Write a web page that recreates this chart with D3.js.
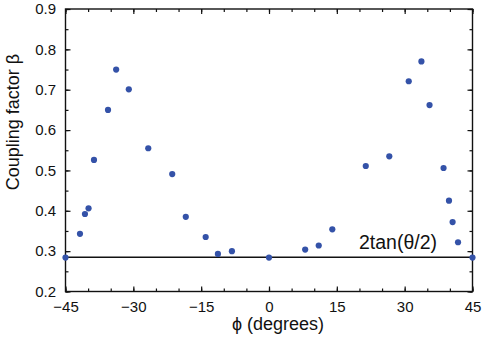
<!DOCTYPE html>
<html>
<head>
<meta charset="utf-8">
<script src="https://cdn.jsdelivr.net/npm/d3@7"></script>
<style>
  body { margin: 0; background: #fff; }
  svg { display: block; font-family: "Liberation Sans", Arial, sans-serif; }
  .axis text { font-size: 15px; fill: #111; }
  .axis line { stroke: #111; stroke-width: 1.2; }
  .axis path { display: none; }
</style>
</head>
<body>
<svg class="chart" width="484" height="342"></svg>
<script>
// angle phi (degrees) and coupling factor beta
var phi = [-45, -41.8, -40.7, -39.9, -38.7, -35.6, -33.8, -31, -26.7, -21.4, -18.4, -14, -11.3, -8.2,
  0, 8, 11, 14, 21.4, 26.6, 30.9, 33.7, 35.5, 38.6, 39.8, 40.6, 41.8, 45];
var beta = [0.284, 0.343, 0.392, 0.406, 0.526, 0.650, 0.750, 0.701, 0.555, 0.491, 0.385, 0.335, 0.293, 0.300,
  0.284, 0.304, 0.314, 0.354, 0.511, 0.535, 0.721, 0.770, 0.662, 0.506, 0.425, 0.372, 0.322, 0.284];
var refValue = 0.285; // 2tan(theta/2)
var refLabel = "2tan(θ/2)";

var xTicks = [-45, -30, -15, 0, 15, 30, 45];
var xMinorTicks = d3.range(-45, 46, 5);
var yTicks = [0.2, 0.3, 0.4, 0.5, 0.6, 0.7, 0.8, 0.9];
var yMinorTicks = d3.range(0.2, 0.901, 0.05);

// plot box (window.top is taken, so prefixed names)
var plotL = 65.5, plotR = 472.5, plotT = 9, plotB = 291.5;

var x = d3.scaleLinear().domain([-45, 45]).range([plotL, plotR]);
var y = d3.scaleLinear().domain([0.2, 0.9]).range([plotB, plotT]);

var svg = d3.select('.chart');

function addAxis(axis, tx, ty) {
  svg.append("g")
    .attr("class", "axis")
    .attr("transform", "translate(" + tx + "," + ty + ")")
    .call(axis);
}

// minor ticks first (no labels), then major ones
addAxis(d3.axisBottom(x).tickValues(xMinorTicks).tickSize(-3).tickFormat(""), 0, plotB);
addAxis(d3.axisTop(x).tickValues(xMinorTicks).tickSize(-3).tickFormat(""), 0, plotT);
addAxis(d3.axisLeft(y).tickValues(yMinorTicks).tickSize(-3).tickFormat(""), plotL, 0);
addAxis(d3.axisRight(y).tickValues(yMinorTicks).tickSize(-3).tickFormat(""), plotR, 0);

addAxis(d3.axisBottom(x).tickValues(xTicks).tickSize(-5).tickPadding(10).tickFormat(d3.format("d")), 0, plotB);
addAxis(d3.axisTop(x).tickValues(xTicks).tickSize(-5).tickFormat(""), 0, plotT);
addAxis(d3.axisLeft(y).tickValues(yTicks).tickSize(-5).tickPadding(9.5).tickFormat(d3.format(".1f")), plotL, 0);
addAxis(d3.axisRight(y).tickValues(yTicks).tickSize(-5).tickFormat(""), plotR, 0);

// frame
svg.append("rect")
  .attr("x", plotL).attr("y", plotT)
  .attr("width", plotR - plotL).attr("height", plotB - plotT)
  .attr("fill", "none").attr("stroke", "#111").attr("stroke-width", 1.4);

// reference line
svg.append("line")
  .attr("x1", x(-45)).attr("x2", x(45))
  .attr("y1", y(refValue)).attr("y2", y(refValue))
  .attr("stroke", "#111").attr("stroke-width", 1.4);

svg.append("text")
  .attr("x", 359).attr("y", y(refValue) - 8.5)
  .attr("font-size", "19.5px").attr("fill", "#111")
  .text(refLabel);

// points
var points = phi.map(function(p, i) { return { phi: p, beta: beta[i] }; });
svg.selectAll("circle.pt")
  .data(points).enter().append("circle")
  .attr("class", "pt")
  .attr("cx", function(d) { return x(d.phi); })
  .attr("cy", function(d) { return y(d.beta); })
  .attr("r", 3.1)
  .attr("fill", "#3452a8");

// axis titles
svg.append("text")
  .attr("x", 232).attr("y", 330)
  .attr("font-size", "18px").attr("fill", "#111")
  .text("\u03D5 (degrees)");

svg.append("text")
  .attr("transform", "translate(19,122) rotate(-90)")
  .attr("text-anchor", "middle")
  .attr("font-size", "18px").attr("fill", "#111")
  .text("Coupling factor β");
</script>
</body>
</html>
